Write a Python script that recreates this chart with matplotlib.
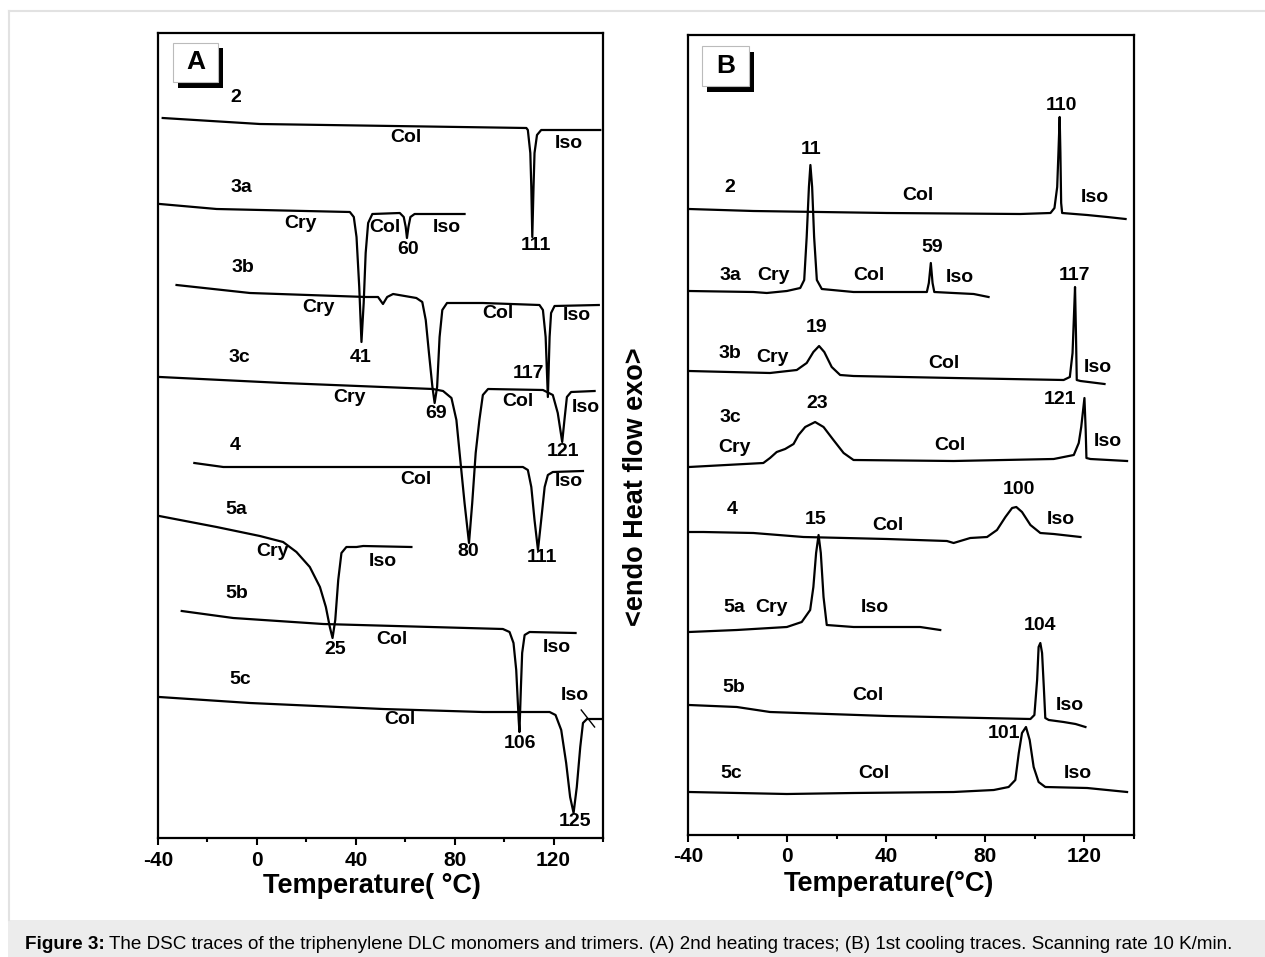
import matplotlib.pyplot as plt
from matplotlib.patches import Rectangle

plt.rcParams['font.family'] = ['Liberation Sans', 'DejaVu Sans']
plt.rcParams['font.weight'] = 'bold'

# panel A: 2nd heating traces, T in degC, heat flow in arbitrary (stacked) units
a2_t = [-38.1, 1.2, 109.0, 109.6, 110.6, 111.0, 111.4, 111.9, 112.3, 113.3, 115.0, 138.9]
a2_y = [720, 714, 710, 708, 685, 651, 601, 651, 685, 703, 708, 708]
a3a_t = [-39.2, -16.3, 37.6, 39.2, 40.3, 41.4, 42.3, 43.2, 44.0, 45.0, 46.7, 57.8, 59.4,
         60.2, 60.7, 61.3, 62.1, 63.8, 84.0]
a3a_y = [634, 629, 626, 621, 601, 551, 496, 535, 585, 615, 624, 625, 621, 611, 600, 611, 621, 624, 624]
a3b_t = [-32.5, -2.8, 44.3, 49.0, 51.0, 52.7, 55.1, 64.5, 66.9, 68.3, 69.6, 71.0, 71.9, 72.9,
         73.9, 75.0, 76.9, 91.4, 114.3, 115.7, 116.8, 117.7, 118.4, 119.0, 120.4, 138.3]
a3b_y = [553, 545, 541, 541, 534, 541, 544, 540, 536, 518, 485, 451, 435, 451, 501, 528, 535,
         535, 533, 528, 501, 441, 501, 525, 532, 533]
a3c_t = [-39.2, 10.6, 71.2, 75.3, 78.7, 80.7, 82.0, 84.0, 85.8, 87.1, 88.5, 90.0, 91.4, 93.5,
         115.7, 119.7, 121.7, 123.5, 124.4, 125.4, 127.1, 136.6]
a3c_y = [461, 455, 449, 447, 440, 418, 385, 335, 295, 335, 385, 418, 443, 449, 448, 443, 425,
         396, 418, 441, 446, 447]
a4_t = [-25.3, -13.6, 29.5, 107.6, 109.6, 111.0, 112.3, 113.7, 115.0, 116.4, 117.7, 119.7, 131.9]
a4_y = [375, 371, 371, 371, 368, 351, 318, 288, 318, 351, 363, 366, 367]
a5a_t = [-39.5, -16.3, 1.2, 10.6, 16.0, 21.4, 25.5, 27.9, 29.5, 30.6, 31.7, 32.9, 34.2, 36.2,
         40.3, 43.0, 62.5]
a5a_y = [322, 311, 302, 296, 286, 271, 251, 231, 211, 200, 218, 258, 285, 291, 291, 292, 291]
a5b_t = [-30.4, -9.6, 26.8, 99.5, 102.2, 103.8, 104.9, 105.9, 106.2, 106.8, 107.3, 108.3, 110.3, 128.9]
a5b_y = [227, 220, 214, 209, 206, 195, 168, 118, 106, 151, 185, 203, 206, 205]
a5c_t = [-39.5, -2.8, 51.0, 91.4, 118.4, 120.8, 123.1, 125.1, 126.7, 128.1, 129.4, 130.8,
         131.9, 133.5, 139.7]
a5c_y = [141, 135, 129, 126, 126, 123, 108, 75, 41, 25, 51, 91, 115, 119, 119]
a5c_mark_t = [131.2, 136.6]
a5c_mark_y = [128, 111]

# panel B: 1st cooling traces
b2_t = [-39.6, -13.6, 40.3, 94.1, 106.3, 107.9, 109.0, 109.5, 110.0, 110.3, 110.6, 111.0,
        121.1, 129.2, 136.6]
b2_y = [626, 624, 622, 621, 622, 627, 648, 682, 718, 682, 632, 622, 620, 618, 616]
b3a_t = [-39.6, -13.6, -8.2, -0.1, 5.3, 6.9, 7.9, 8.8, 9.4, 10.1, 10.9, 12.0, 14.0, 26.8,
         56.4, 57.2, 58.0, 58.7, 59.4, 67.2, 75.3, 81.3]
b3a_y = [544, 543, 542, 544, 547, 555, 598, 648, 670, 648, 598, 555, 546, 543, 543, 552, 572,
         552, 543, 542, 541, 538]
b3b_t = [-39.6, -6.9, 3.9, 7.9, 10.6, 12.9, 15.0, 18.0, 21.4, 26.8, 67.2, 111.6, 114.1, 115.2,
         115.7, 116.2, 116.6, 116.9, 118.4, 128.1]
b3b_y = [464, 462, 465, 472, 483, 489, 483, 468, 460, 459, 457, 455, 458, 482, 515, 548, 498,
         455, 454, 451]
b3c_t = [-39.6, -9.6, -6.9, -4.2, -0.8, 2.6, 4.6, 7.3, 11.3, 14.7, 18.7, 22.8, 26.8, 67.2,
         107.6, 115.7, 117.7, 118.7, 120.0, 120.5, 120.8, 122.4, 137.2]
b3c_y = [368, 372, 377, 383, 386, 391, 400, 408, 413, 408, 395, 382, 375, 374, 376, 380, 392,
         408, 437, 405, 377, 376, 374]
b4_t = [-39.6, -33.8, -13.6, 6.6, 40.3, 64.5, 67.2, 73.9, 80.7, 84.7, 88.1, 90.8, 92.5, 94.8,
        98.2, 102.2, 107.6, 118.4]
b4_y = [303, 303, 302, 298, 296, 294, 292, 297, 298, 305, 318, 327, 328, 323, 310, 302, 301, 298]
b5a_t = [-39.6, -20.3, -0.1, 5.9, 9.3, 10.6, 11.7, 12.7, 13.6, 14.7, 16.0, 26.8, 53.7, 61.8]
b5a_y = [203, 205, 208, 213, 225, 248, 282, 300, 282, 238, 210, 208, 208, 205]
b5b_t = [-39.6, -20.3, -6.9, 40.3, 98.2, 99.8, 100.9, 101.5, 102.2, 102.9, 103.6, 104.2,
         105.6, 111.6, 116.4, 120.4]
b5b_y = [130, 128, 123, 119, 116, 120, 155, 188, 192, 182, 148, 117, 115, 113, 111, 108]
b5c_t = [-39.6, -0.1, 26.8, 67.2, 83.4, 89.4, 92.1, 93.5, 94.8, 96.4, 97.9, 99.5, 101.5,
         104.2, 121.1, 137.2]
b5c_y = [43, 41, 42, 43, 45, 48, 55, 82, 102, 108, 95, 68, 53, 48, 47, 43]

# sample names, phases and peak temperatures written on the plots
a_note_text = ['2', 'Col', 'Iso', '3a', 'Cry', 'Col', 'Iso', '60', '111', '3b', 'Cry', 'Col',
               'Iso', '41', '3c', '117', 'Cry', 'Col', 'Iso', '69', '121', '4', 'Col', 'Iso',
               '5a', '80', '111', 'Cry', 'Iso', '5b', '25', 'Col', 'Iso', '5c', 'Iso', 'Col',
               '106', '125']
a_note_t = [-8.5, 60.2, 126.2, -6.2, 17.6, 51.7, 77.0, 61.1, 112.7, -5.8, 24.8, 97.5, 129.4,
            41.9, -7.1, 110.0, 37.3, 105.6, 133.0, 72.6, 123.8, -8.6, 64.2, 126.2, -8.5, 85.4,
            115.4, 6.2, 51.0, -8.2, 31.5, 54.7, 121.3, -6.6, 128.8, 57.8, 106.3, 128.5]
a_note_y = [740, 701, 695, 651, 615, 611, 611, 589, 593, 570, 530, 524, 522, 481, 481, 465,
            441, 436, 431, 425, 386, 393, 359, 357, 329, 286, 281, 286, 277, 245, 188, 198,
            191, 158, 142, 119, 95, 16]

b_note_text = ['110', '11', '2', 'Col', 'Iso', '59', '3a', 'Cry', 'Col', 'Iso', '117', '19',
               '3b', 'Cry', 'Col', 'Iso', '23', '121', '3c', 'Cry', 'Col', 'Iso', '100', '4',
               '15', 'Col', 'Iso', '5a', 'Cry', 'Iso', '104', '5b', 'Col', 'Iso', '101', '5c',
               'Col', 'Iso']
b_note_t = [110.6, 9.6, -23.0, 52.8, 124.0, 58.7, -23.0, -5.3, 33.1, 69.5, 116.0, 12.0, -23.0,
            -5.9, 63.4, 125.4, 12.3, 110.0, -23.0, -21.3, 65.6, 129.4, 93.5, -22.1, 11.7, 40.5,
            110.6, -21.4, -6.2, 35.2, 102.2, -21.7, 32.5, 113.9, 87.7, -22.4, 35.2, 117.3]
b_note_y = [730, 686, 648, 639, 637, 587, 560, 559, 560, 557, 560, 508, 482, 478, 472, 467,
            432, 436, 418, 387, 389, 393, 345, 326, 316, 310, 315, 227, 227, 227, 210, 148,
            139, 130, 101, 62, 62, 62]

major_ticks = [-40, 0, 40, 80, 120]
minor_ticks = [-20, 20, 60, 100, 140]


def setup_axis(ax, ytop):
    ax.set_xlim(-40, 140)
    ax.set_ylim(0, ytop)
    ax.set_xticks(major_ticks)
    ax.set_xticks(minor_ticks, minor=True)
    ax.set_xticklabels([str(t) for t in major_ticks], fontsize=15, fontweight='bold')
    ax.set_yticks([])
    ax.tick_params(axis='x', which='major', direction='out', length=5, width=1.5, pad=4)
    ax.tick_params(axis='x', which='minor', direction='out', length=3, width=1.5)
    for s in ax.spines.values():
        s.set_linewidth(1.6)


def panel_tag(ax, letter, x0, y0, w, h):
    # white label box with a black drop shadow at the lower right
    ax.add_patch(Rectangle((x0 + 0.011, y0 - 0.007), w, h, transform=ax.transAxes,
                           facecolor='black', edgecolor='none', zorder=5))
    ax.add_patch(Rectangle((x0, y0), w, h, transform=ax.transAxes,
                           facecolor='white', edgecolor='#bbbbbb', lw=0.8, zorder=6))
    ax.text(x0 + w / 2, y0 + h / 2, letter, transform=ax.transAxes, ha='center',
            va='center', fontsize=19, fontweight='bold', zorder=7)


fig = plt.figure(figsize=(12.65, 9.57), dpi=100)

# outer frame and caption band
fig.add_artist(plt.Line2D([8.5 / 1265, 8.5 / 1265], [1 - 10.5 / 957, 37 / 957],
                          color='#e2e2e2', lw=1.5))
fig.add_artist(plt.Line2D([8.5 / 1265, 1], [1 - 10.5 / 957, 1 - 10.5 / 957],
                          color='#e2e2e2', lw=1.5))
fig.add_artist(Rectangle((8 / 1265, 0), 1, 37 / 957, transform=fig.transFigure,
                         facecolor='#ececec', edgecolor='none'))

axA = fig.add_axes([158 / 1265, 119 / 957, 445 / 1265, 805 / 957])
axB = fig.add_axes([688 / 1265, 122 / 957, 446 / 1265, 800 / 957])

line_kw = dict(color='black', lw=1.6, solid_joinstyle='round')
for t, y in [(a2_t, a2_y), (a3a_t, a3a_y), (a3b_t, a3b_y), (a3c_t, a3c_y), (a4_t, a4_y),
             (a5a_t, a5a_y), (a5b_t, a5b_y), (a5c_t, a5c_y)]:
    axA.plot(t, y, **line_kw)
axA.plot(a5c_mark_t, a5c_mark_y, color='black', lw=1.0)

for t, y in [(b2_t, b2_y), (b3a_t, b3a_y), (b3b_t, b3b_y), (b3c_t, b3c_y), (b4_t, b4_y),
             (b5a_t, b5a_y), (b5b_t, b5b_y), (b5c_t, b5c_y)]:
    axB.plot(t, y, **line_kw)

for s, t, y in zip(a_note_text, a_note_t, a_note_y):
    axA.text(t, y, s, ha='center', va='center', fontsize=14, fontweight='bold')
for s, t, y in zip(b_note_text, b_note_t, b_note_y):
    axB.text(t, y, s, ha='center', va='center', fontsize=14, fontweight='bold')

setup_axis(axA, 805)
setup_axis(axB, 800)

panel_tag(axA, 'A', 0.034, 0.939, 0.101, 0.049)
panel_tag(axB, 'B', 0.031, 0.936, 0.106, 0.050)

axA.text(0.48, -0.068, 'Temperature( \u00b0C)', transform=axA.transAxes, ha='center',
         va='baseline', fontsize=19.5, fontweight='bold')
axB.text(0.45, -0.07, 'Temperature(\u00b0C)', transform=axB.transAxes, ha='center',
         va='baseline', fontsize=19.5, fontweight='bold')

fig.text(636 / 1265, 1 - 487 / 957, '<endo Heat flow exo>', rotation=90, ha='center',
         va='center', fontsize=19.5, fontweight='bold')

# caption: bold prefix followed by plain text
cap_y = 8 / 957
t1 = fig.text(25 / 1265, cap_y, 'Figure 3:', ha='left', va='baseline', fontsize=13.6,
              fontweight='bold')
fig.canvas.draw()
bb = t1.get_window_extent()
fig.text(bb.x1 / fig.bbox.width + 4 / 1265, cap_y,
         'The DSC traces of the triphenylene DLC monomers and trimers. (A) 2nd heating '
         'traces; (B) 1st cooling traces. Scanning rate 10 K/min.',
         ha='left', va='baseline', fontsize=13.6, fontweight='normal')

fig.savefig('out.png', dpi=100)
